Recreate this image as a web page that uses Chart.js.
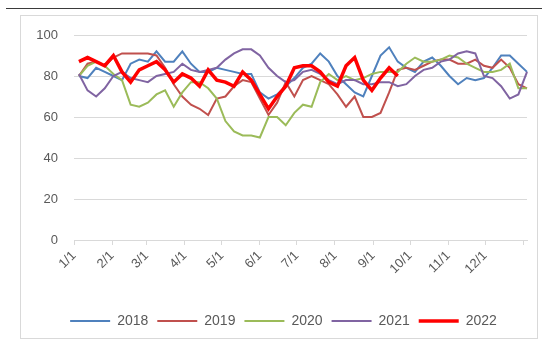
<!DOCTYPE html>
<html>
<head>
<meta charset="utf-8">
<script src="https://cdn.jsdelivr.net/npm/chart.js@4.4.0/dist/chart.umd.min.js"></script>
<style>
  body { margin: 0; background: #fff; }
  #topline { position: absolute; left: 6px; top: 8px; width: 536px; height: 1px; background: #3a3a3a; }
  #frame { position: absolute; left: 20px; top: 15px; width: 516px; height: 322px; border: 1px solid #d9d9d9; }
  #wrap { position: absolute; left: 0; top: 0; width: 542px; height: 347px; }
</style>
</head>
<body>
<div id="topline"></div>
<div id="frame"></div>
<div id="wrap"><canvas id="lineChart" width="542" height="347"></canvas></div>
<script>
const seriesNames = ["2018", "2019", "2020", "2021", "2022"];
const monthStarts = [0, 31, 59, 90, 120, 151, 181, 212, 243, 273, 304, 334, 365];
const monthLabels = ["1/1", "2/1", "3/1", "4/1", "5/1", "6/1", "7/1", "8/1", "9/1", "10/1", "11/1", "12/1", ""];

const y2018 = [80, 79, 84, 82, 80, 78, 86, 88, 87, 92, 87, 87, 92, 86, 82, 82, 84, 83, 82, 81,
    81, 72, 69, 71, 75, 79, 84, 86, 91, 87, 80, 76, 72, 70, 80, 90, 94, 87, 84, 82,
    87, 89, 85, 80, 76, 79, 78, 79, 84, 90, 90, 86, 82];
const y2019 = [80, 86, 87, 85, 89, 91, 91, 91, 91, 90, 84, 76, 70, 66, 64, 61, 69, 70, 75, 78,
    77, 69, 61, 67, 77, 70, 78, 80, 78, 76, 71, 65, 70, 60, 60, 62, 72, 83, 84, 83,
    85, 87, 88, 88, 86, 86, 88, 85, 84, 88, 84, 76, 74];
const y2020 = [80, 85, 87, 85, 81, 78, 66, 65, 67, 71, 73, 65, 72, 77, 77, 74, 69, 58, 53, 51,
    51, 50, 60, 60, 56, 62, 66, 65, 77, 81, 78, 80, 78, 79, 81, 82, 82, 82, 86, 89,
    87, 87, 88, 90, 89, 86, 84, 82, 82, 83, 86, 74, 74];
const y2021 = [81, 73, 70, 74, 80, 82, 79, 78, 77, 80, 81, 82, 86, 83, 82, 83, 84, 88, 91, 93,
    93, 90, 84, 80, 77, 78, 82, 83, 81, 78, 76, 78, 78, 76, 76, 77, 77, 75, 76, 80,
    83, 84, 87, 88, 91, 92, 91, 80, 79, 75, 69, 71, 82];
const y2022 = [87, 89, 87, 85, 90, 82, 77, 83, 85, 87, 83, 77, 81, 79, 75, 83, 78, 77, 75, 82,
    78, 71, 64, 70, 75, 84, 85, 85, 82, 77, 75, 85, 89, 78, 73, 79, 84, 80];

const colors = ["#4F81BD", "#C0504D", "#9BBB59", "#8064A2", "#FF0000"];
const widths = [2, 2, 2, 2, 3.5];
const allData = [y2018, y2019, y2020, y2021, y2022];

// weekly values, one point every 7 days
function toPoints(arr) {
    return arr.map((v, i) => ({ x: 4 + i * 7, y: v }));
}

const datasets = allData.map((arr, k) => ({
    label: seriesNames[k],
    data: toPoints(arr),
    borderColor: colors[k],
    backgroundColor: colors[k],
    borderWidth: widths[k],
    pointRadius: 0,
    tension: 0,
    clip: false,
    order: 4 - k
}));

// nudge the legend a little to the right, like in the original
const legendShift = {
    id: 'legendShift',
    afterLayout(chart) {
        chart.legend.left += 10;
        chart.legend.right += 10;
    }
};

const ctx = document.getElementById('lineChart').getContext('2d');
const lineChart = new Chart(ctx, {
    type: 'line',
    data: { datasets: datasets },
    plugins: [legendShift],
    options: {
        responsive: false,
        animation: false,
        layout: { padding: { left: 20, right: 15, top: 35, bottom: 9 } },
        scales: {
            x: {
                type: 'linear',
                min: 0,
                max: 368,
                afterBuildTicks: (scale) => {
                    scale.ticks = monthStarts.map(v => ({ value: v }));
                },
                afterFit: (scale) => { scale.height = 65; },
                ticks: {
                    autoSkip: false,
                    minRotation: 45,
                    maxRotation: 45,
                    color: '#595959',
                    font: { family: 'Liberation Sans', size: 13 },
                    callback: (value) => {
                        const idx = monthStarts.indexOf(value);
                        return idx >= 0 ? monthLabels[idx] : '';
                    }
                },
                grid: {
                    drawOnChartArea: false,
                    tickLength: 5,
                    color: '#d9d9d9'
                },
                border: { color: '#d9d9d9' }
            },
            y: {
                min: 0,
                max: 100,
                afterFit: (scale) => { scale.width = 54; },
                ticks: {
                    stepSize: 20,
                    padding: 16,
                    color: '#595959',
                    font: { family: 'Liberation Sans', size: 13 }
                },
                grid: { color: '#d9d9d9', drawTicks: false },
                border: { display: false }
            }
        },
        plugins: {
            legend: {
                position: 'bottom',
                labels: {
                    usePointStyle: true,
                    pointStyle: 'line',
                    pointStyleWidth: 40,
                    padding: 9,
                    color: '#595959',
                    font: { family: 'Liberation Sans', size: 14 },
                    sort: (a, b) => a.datasetIndex - b.datasetIndex
                }
            },
            tooltip: { enabled: false }
        }
    }
});
</script>
</body>
</html>
